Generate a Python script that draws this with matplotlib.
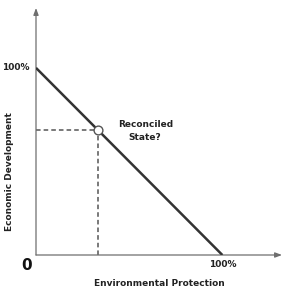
import matplotlib
matplotlib.use("Agg")
import matplotlib.pyplot as plt

# data
line_x = [0, 100]
line_y = [100, 0]
point_x = [33]
point_y = [67]
x_tick_labels = ["100%"]
y_tick_labels = ["100%"]
x_label = "Environmental Protection"
y_label = "Economic Development"
annotation = "Reconciled\nState?"

plt.rcParams['font.family'] = ['DejaVu Sans']
fig = plt.figure(figsize=(2.86, 2.94), dpi=100)
ax = fig.add_axes([36/286, 39/294, 246/286, 247/294])
ax.set_xlim(0, 132)
ax.set_ylim(0, 132)
for s in ax.spines.values():
    s.set_visible(False)
ax.set_xticks([])
ax.set_yticks([])

axc = '#6e6e6e'
ax.annotate('', xy=(132, 0), xytext=(0, 0),
            arrowprops=dict(arrowstyle='-|>,head_length=0.4,head_width=0.15', color=axc, lw=0.9, shrinkA=0, shrinkB=0))
ax.annotate('', xy=(0, 132), xytext=(0, 0),
            arrowprops=dict(arrowstyle='-|>,head_length=0.4,head_width=0.15', color=axc, lw=0.9, shrinkA=0, shrinkB=0))

ax.plot(line_x, line_y, color='#333333', lw=1.8, solid_capstyle='butt', zorder=3)
ax.plot([0, point_x[0]], [point_y[0], point_y[0]], color='#555555', lw=1.1, ls=(0, (3, 2)), zorder=2)
ax.plot([point_x[0], point_x[0]], [0, point_y[0]], color='#555555', lw=1.1, ls=(0, (3, 2)), zorder=2)
ax.scatter(point_x, point_y, s=40, facecolor='white', edgecolor='#555555', linewidth=1.0, zorder=4)

ax.text(58.6, 66.3, annotation, ha='center', va='center',
        fontsize=6.5, fontweight='bold', color='#222222', linespacing=1.45)
ax.text(100, -2.5, x_tick_labels[0], ha='center', va='top', fontsize=6.5, fontweight='bold', color='#222222')
ax.text(-3.5, 100, y_tick_labels[0], ha='right', va='center', fontsize=6.5, fontweight='bold', color='#222222')
ax.text(-2, -1.5, '0', ha='right', va='top', fontsize=11, fontweight='bold', color='#111111')
fig.text(159/286, 1 - 283/294, x_label, ha='center', va='center', fontsize=6.5, fontweight='bold', color='#222222')
fig.text(10/286, 1 - 172/294, y_label, ha='center', va='center', rotation=90, fontsize=6.5, fontweight='bold', color='#222222')

fig.savefig('out.png', dpi=100)
